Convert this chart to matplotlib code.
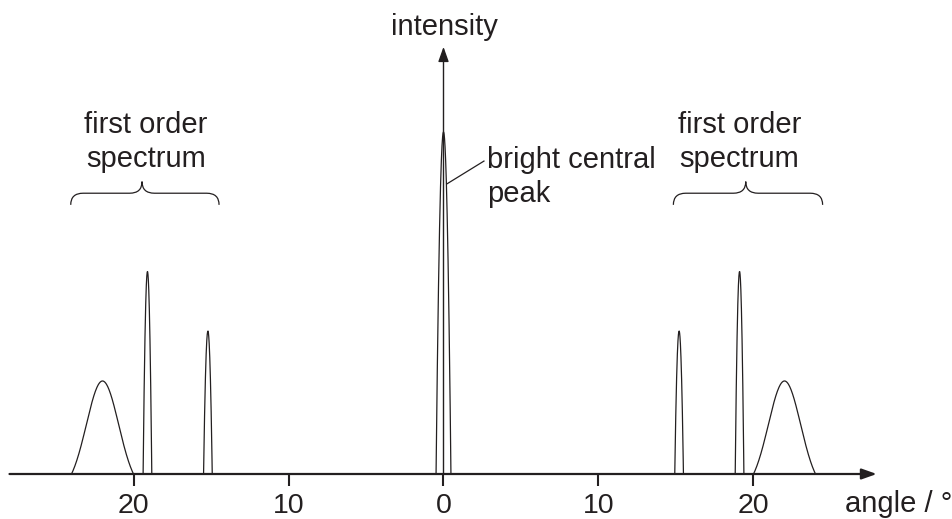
import matplotlib
matplotlib.use("Agg")
import matplotlib.pyplot as plt
import numpy as np
from matplotlib.path import Path
from matplotlib.patches import PathPatch

plt.rcParams['font.family'] = ['Liberation Sans', 'DejaVu Sans']

# Peaks (angle in degrees, intensity in arbitrary units)
peak_centres = [-22.0, -19.1, -15.2, 0.0, 15.2, 19.1, 22.0]
peak_heights = [2.72, 5.92, 4.18, 10.0, 4.18, 5.92, 2.72]
peak_halfwidths = [2.0, 0.28, 0.28, 0.48, 0.28, 0.28, 2.0]
broad_peak = [True, False, False, False, False, False, True]

tick_positions = [-20, -10, 0, 10, 20]
tick_labels = ['20', '10', '0', '10', '20']

brace_spans = [(-24.05, -14.48, -19.45), (14.83, 24.46, 19.5)]
brace_text_x = [-19.2, 19.1]

ink = '#231f20'

fig = plt.figure(figsize=(9.53, 5.19), dpi=100)
ax = fig.add_axes([0, 0, 1, 1])
ax.set_xlim(-443.5 / 15.5, (953 - 443.5) / 15.5)
ax.set_ylim(-45 / 34.2, 474 / 34.2)

# peak outlines
for c, h, w, broad in zip(peak_centres, peak_heights, peak_halfwidths, broad_peak):
    u = np.linspace(-1, 1, 201)
    if broad:
        s = 0.52
        e0 = np.exp(-1 / (2 * s ** 2))
        shape = (np.exp(-u ** 2 / (2 * s ** 2)) - e0) / (1 - e0)
    else:
        shape = 1 - u ** 2
    ax.plot(c + w * u, h * shape, color=ink, lw=0.9, solid_joinstyle='miter')

# axes with arrow heads
arrow = dict(arrowstyle='-|>,head_length=0.45,head_width=0.16', mutation_scale=20,
             color=ink, lw=1.6, shrinkA=0, shrinkB=0)
ax.annotate('', xy=(27.95, 0), xytext=(-28.0, 0), arrowprops=arrow)
arrow_y = dict(arrow, lw=1.0)
ax.annotate('', xy=(0, 12.49), xytext=(0, -0.02), arrowprops=arrow_y)

for side in ['left', 'right', 'top']:
    ax.spines[side].set_visible(False)
ax.spines['bottom'].set_position(('data', 0))
ax.spines['bottom'].set_visible(False)
ax.set_yticks([])
ax.set_xticks(tick_positions)
ax.set_xticklabels(tick_labels)
ax.tick_params(axis='x', direction='out', length=8.6, width=1.5, color=ink,
               labelsize=20.5, labelcolor=ink, pad=5)

# braces
y_end, y_mid, y_top = 7.87, 8.21, 8.55
r = 0.8
for x0, x1, xc in brace_spans:
    verts = [(x0, y_end), (x0, y_mid), (x0 + r, y_mid),
             (xc - r, y_mid), (xc, y_mid), (xc, y_top),
             (xc, y_mid), (xc + r, y_mid),
             (x1 - r, y_mid), (x1, y_mid), (x1, y_end)]
    codes = [Path.MOVETO, Path.CURVE3, Path.CURVE3,
             Path.LINETO, Path.CURVE3, Path.CURVE3,
             Path.CURVE3, Path.CURVE3,
             Path.LINETO, Path.CURVE3, Path.CURVE3]
    ax.add_patch(PathPatch(Path(verts, codes), fill=False, edgecolor=ink, lw=0.9))

for x in brace_text_x:
    ax.text(x, (474 - 142) / 34.2, 'first order\nspectrum', ha='center', va='center',
            fontsize=21, color=ink, linespacing=1.26)

# labels
ax.text(0.03, (474 - 35) / 34.2, 'intensity', ha='center', va='baseline', fontsize=21, color=ink)
ax.text((845 - 443.5) / 15.5, (474 - 512) / 34.2, 'angle / °', ha='left', va='baseline',
        fontsize=21, color=ink)
ax.plot([0.21, 2.61], [8.48, 9.15], color=ink, lw=0.9)
ax.text((487 - 443.5) / 15.5, (474 - 177) / 34.2, 'bright central\npeak', ha='left', va='center',
        fontsize=21, color=ink, linespacing=1.26)

fig.savefig('out.png', dpi=100)
